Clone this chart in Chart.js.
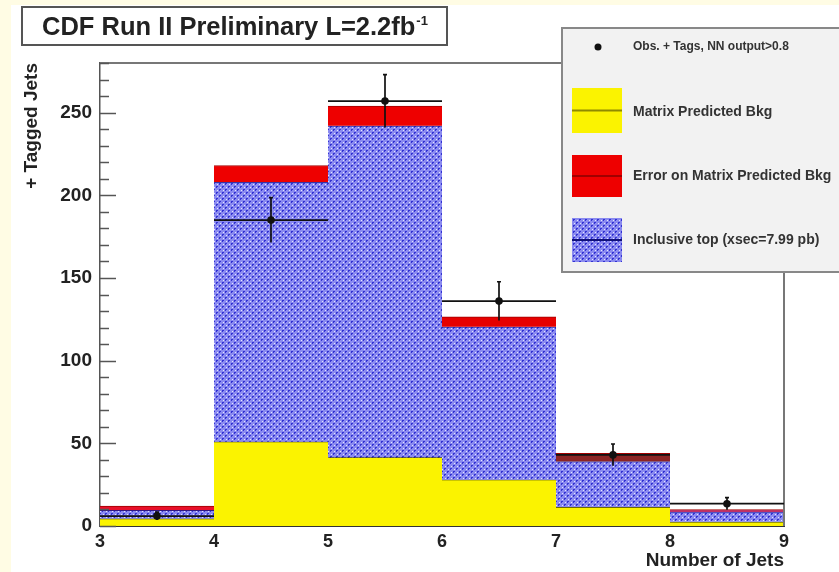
<!DOCTYPE html>
<html>
<head>
<meta charset="utf-8">
<script src="https://cdn.jsdelivr.net/npm/chart.js@4.4.1/dist/chart.umd.min.js"></script>
<style>
  html, body { margin: 0; padding: 0; background: #fff; }
  canvas { display: block; }
</style>
</head>
<body>
<canvas id="jets-chart" width="839" height="572"></canvas>
<script>
// low edge of each jet-multiplicity bin (bins are 1 wide)
const binEdges = [3, 4, 5, 6, 7, 8];
// matrix predicted background (yellow)
const bkgValues = [4.5, 51, 41.5, 28, 11.5, 2.5];
// inclusive top stacked on the background (blue hatch)
const topValues = [5, 157, 200.5, 92.5, 27.5, 6];
// error on matrix predicted bkg (red band on top)
const errValues = [2.5, 10, 12, 6, 5, 1.5];
// observed tagged events, NN output > 0.8
const obsValues = [6, 185, 257, 136, 43, 13.5];
const obsErrors = [2.4, 13.6, 16, 11.7, 6.6, 3.7];

const xTicks = [3, 4, 5, 6, 7, 8, 9];
const yTicks = [0, 50, 100, 150, 200, 250];

const legendLabels = [
    "Obs. + Tags, NN output>0.8",
    "Matrix Predicted Bkg",
    "Error on Matrix Predicted Bkg",
    "Inclusive top (xsec=7.99 pb)"
];

const FONT = "'Liberation Sans', Arial, sans-serif";
Chart.defaults.font.family = FONT;

const canvas = document.getElementById("jets-chart");
const ctx = canvas.getContext("2d");

// blue "dotted" hatch like the ROOT fill style
function makeHatch() {
    const c = document.createElement("canvas");
    c.width = 6;
    c.height = 6;
    const g = c.getContext("2d");
    g.fillStyle = "#8a8af0";
    g.fillRect(0, 0, 6, 6);
    g.fillStyle = "#3333d2";
    g.fillRect(0, 0, 2, 1);
    g.fillRect(0, 1, 1, 1);
    g.fillRect(3, 3, 2, 1);
    g.fillRect(3, 4, 1, 1);
    g.fillStyle = "#e4e4ff";
    g.fillRect(4, 1, 1, 1);
    g.fillRect(1, 4, 1, 1);
    return ctx.createPattern(c, "repeat");
}
const hatch = makeHatch();

const yellow = "#fbf300";
const red = "#ee0000";
const redPerBin = ["#e8102a", red, red, "#e60000", "#8c2424", "#c0306a"];

// floating bars built from the arrays above
const centers = binEdges.map(e => e + 0.5);
const bkgBars = centers.map((c, i) => ({x: c, y: [0, bkgValues[i]]}));
const topBars = centers.map((c, i) => ({x: c, y: [bkgValues[i], bkgValues[i] + topValues[i]]}));
const errBars = centers.map((c, i) => {
    const base = bkgValues[i] + topValues[i];
    return {x: c, y: [base, base + errValues[i]]};
});
const obsPoints = centers.map((c, i) => ({x: c, y: obsValues[i]}));

const barCommon = {
    type: "bar",
    grouped: false,
    barPercentage: 1,
    categoryPercentage: 1,
    borderSkipped: false,
    borderWidth: {top: 1, left: 0, right: 0, bottom: 0}
};

// page background: white with the pale yellow slide edge
const backgroundPlugin = {
    id: "pageBg",
    beforeDraw(chart) {
        const c = chart.ctx;
        c.save();
        c.fillStyle = "#ffffff";
        c.fillRect(0, 0, chart.width, chart.height);
        c.fillStyle = "#fffce4";
        c.fillRect(0, 0, chart.width, 5);
        c.fillRect(0, 0, 11, chart.height);
        c.restore();
    }
};

// inward tick marks on the y axis + frame around the pad
const framePlugin = {
    id: "frame",
    afterDatasetsDraw(chart) {
        const c = chart.ctx;
        const a = chart.chartArea;
        const y = chart.scales.y;
        c.save();
        c.strokeStyle = "#777";
        c.lineWidth = 2;
        c.beginPath();
        c.moveTo(a.left, a.top);
        c.lineTo(a.right, a.top);
        c.lineTo(a.right, a.bottom);
        c.stroke();

        c.strokeStyle = "#555";
        c.lineWidth = 1.5;
        for (let v = 0; v <= y.max; v += 10) {
            const py = Math.round(y.getPixelForValue(v)) + 0.5;
            const len = v % 50 === 0 ? 16 : 9;
            c.beginPath();
            c.moveTo(a.left, py);
            c.lineTo(a.left + len, py);
            c.stroke();
        }
        c.restore();
    }
};

// error bars on the observed points
const errorBarPlugin = {
    id: "obsErrors",
    afterDatasetsDraw(chart) {
        const c = chart.ctx;
        const x = chart.scales.x;
        const y = chart.scales.y;
        c.save();
        c.strokeStyle = "#111";
        c.lineWidth = 1.7;
        binEdges.forEach((lo, i) => {
            const px0 = x.getPixelForValue(lo);
            const px1 = x.getPixelForValue(lo + 1);
            const pxc = x.getPixelForValue(centers[i]);
            const py = y.getPixelForValue(obsValues[i]);
            const pyHi = y.getPixelForValue(obsValues[i] + obsErrors[i]);
            const pyLo = y.getPixelForValue(obsValues[i] - obsErrors[i]);
            c.beginPath();
            c.moveTo(px0, py);
            c.lineTo(px1, py);
            c.moveTo(pxc, pyHi);
            c.lineTo(pxc, pyLo);
            c.moveTo(pxc - 2, pyHi);
            c.lineTo(pxc + 2, pyHi);
            c.stroke();
        });
        c.restore();
    }
};

// title box and legend box drawn on top
const overlayPlugin = {
    id: "overlay",
    afterDraw(chart) {
        const c = chart.ctx;
        c.save();
        // title
        c.fillStyle = "#ffffff";
        c.fillRect(22, 7, 425, 38);
        c.strokeStyle = "#555";
        c.lineWidth = 2;
        c.strokeRect(22, 7, 425, 38);
        c.fillStyle = "#222";
        c.font = "bold 25.5px " + FONT;
        c.textBaseline = "alphabetic";
        const main = "CDF Run II Preliminary L=2.2fb";
        c.fillText(main, 42, 35);
        const w = c.measureText(main).width;
        c.font = "bold 13px " + FONT;
        c.fillText("-1", 42 + w + 1, 25);

        // legend
        c.fillStyle = "#f2f2f2";
        c.fillRect(562, 28, 290, 244);
        c.strokeStyle = "#888";
        c.lineWidth = 2;
        c.strokeRect(562, 28, 290, 244);

        c.fillStyle = "#111";
        c.beginPath();
        c.arc(598, 47, 3.5, 0, Math.PI * 2);
        c.fill();

        const swatches = [
            {fill: yellow, line: "#8f8a00", top: 88, h: 45},
            {fill: red, line: "#a00000", top: 155, h: 42},
            {fill: hatch, line: "#10107a", top: 218, h: 44}
        ];
        swatches.forEach(s => {
            c.fillStyle = s.fill;
            c.fillRect(572, s.top, 50, s.h);
            c.strokeStyle = s.line;
            c.lineWidth = 2;
            c.beginPath();
            c.moveTo(572, s.top + s.h / 2);
            c.lineTo(622, s.top + s.h / 2);
            c.stroke();
        });

        c.fillStyle = "#333";
        c.textBaseline = "middle";
        c.font = "bold 12px " + FONT;
        c.fillText(legendLabels[0], 633, 47);
        c.font = "bold 14px " + FONT;
        c.fillText(legendLabels[1], 633, 112);
        c.fillText(legendLabels[2], 633, 176);
        c.fillText(legendLabels[3], 633, 240);
        c.restore();
    }
};

new Chart(canvas, {
    type: "bar",
    data: {
        datasets: [
            {
                type: "scatter",
                label: legendLabels[0],
                data: obsPoints,
                pointRadius: 3.8,
                pointBackgroundColor: "#111",
                pointBorderWidth: 0,
                showLine: false
            },
            Object.assign({}, barCommon, {
                label: legendLabels[2],
                data: errBars,
                backgroundColor: redPerBin,
                borderColor: "#a00000"
            }),
            Object.assign({}, barCommon, {
                label: legendLabels[3],
                data: topBars,
                backgroundColor: hatch,
                borderColor: "#1a1a90"
            }),
            Object.assign({}, barCommon, {
                label: legendLabels[1],
                data: bkgBars,
                backgroundColor: yellow,
                borderColor: "#3a3a00"
            })
        ]
    },
    options: {
        responsive: false,
        animation: false,
        layout: {padding: {left: 12, right: 55, top: 63, bottom: 0}},
        plugins: {
            legend: {display: false},
            tooltip: {enabled: false}
        },
        scales: {
            x: {
                type: "linear",
                min: 3,
                max: 9,
                offset: false,
                afterBuildTicks: s => { s.ticks = xTicks.map(v => ({value: v})); },
                afterFit: s => { s.height = 46; },
                grid: {display: false, drawTicks: false},
                border: {display: true, color: "#333", width: 2},
                ticks: {
                    padding: 5,
                    color: "#222",
                    font: {size: 18, weight: "bold"},
                    maxRotation: 0
                },
                title: {
                    display: true,
                    text: "Number of Jets",
                    align: "end",
                    color: "#222",
                    font: {size: 19, weight: "bold"},
                    padding: {top: 0, bottom: 0}
                }
            },
            y: {
                min: 0,
                max: 280,
                afterBuildTicks: s => { s.ticks = yTicks.map(v => ({value: v})); },
                afterFit: s => { s.width = 88; },
                grid: {display: false, drawTicks: false},
                border: {display: true, color: "#555", width: 1.5},
                ticks: {
                    padding: 8,
                    color: "#222",
                    font: {size: 19, weight: "bold"}
                },
                title: {
                    display: true,
                    text: "+ Tagged Jets",
                    align: "end",
                    color: "#222",
                    font: {size: 19, weight: "bold"},
                    padding: {top: 8, bottom: 0}
                }
            }
        }
    },
    plugins: [backgroundPlugin, framePlugin, errorBarPlugin, overlayPlugin]
});
</script>
</body>
</html>
